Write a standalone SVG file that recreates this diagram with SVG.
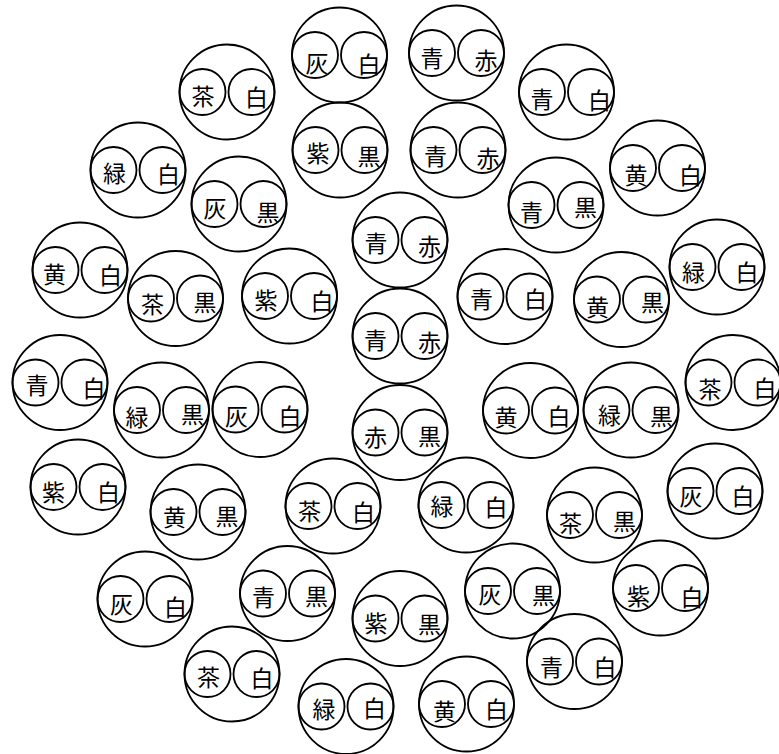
<svg xmlns="http://www.w3.org/2000/svg" width="779" height="754" viewBox="0 0 779 754">
<defs>
<g id="pair" fill="none" stroke="#000" stroke-width="1.8">
<circle cx="0" cy="0" r="47.5"/>
<circle cx="-24.5" cy="0" r="23"/>
<circle cx="24.5" cy="0" r="23"/>
</g>
</defs>
<rect width="779" height="754" fill="#fff"/>
<g font-family="'Noto Sans CJK JP','Noto Sans CJK SC',sans-serif" font-size="23" text-anchor="middle" fill="#000">
<g id="u01" transform="translate(339.5,55)"><use href="#pair"/><text x="-22.5" y="9" dy="8">灰</text><text x="29.5" y="10" dy="8">白</text></g>
<g id="u02" transform="translate(456.5,53)"><use href="#pair"/><text x="-24.5" y="6" dy="8">青</text><text x="29.5" y="8" dy="8">赤</text></g>
<g id="u03" transform="translate(227,92)"><use href="#pair"/><text x="-24" y="5" dy="8">茶</text><text x="29.5" y="6" dy="8">白</text></g>
<g id="u04" transform="translate(566.5,92)"><use href="#pair"/><text x="-24.5" y="8" dy="8">青</text><text x="33" y="8.5" dy="8">白</text></g>
<g id="u05" transform="translate(138,170)"><use href="#pair"/><text x="-23.5" y="3.5" dy="8">緑</text><text x="30.5" y="5" dy="8">白</text></g>
<g id="u06" transform="translate(340,150)"><use href="#pair"/><text x="-22" y="3.5" dy="8">紫</text><text x="29" y="7" dy="8">黒</text></g>
<g id="u07" transform="translate(458,150)"><use href="#pair"/><text x="-22.5" y="7" dy="8">青</text><text x="30" y="8.5" dy="8">赤</text></g>
<g id="u08" transform="translate(657.5,168)"><use href="#pair"/><text x="-21.5" y="7.5" dy="8">黄</text><text x="33" y="8" dy="8">白</text></g>
<g id="u09" transform="translate(239,204)"><use href="#pair"/><text x="-24" y="4.5" dy="8">灰</text><text x="29" y="9" dy="8">黒</text></g>
<g id="u10" transform="translate(556,205)"><use href="#pair"/><text x="-24.5" y="8" dy="8">青</text><text x="29.5" y="3" dy="8">黒</text></g>
<g id="u11" transform="translate(400,240)"><use href="#pair"/><text x="-24" y="4" dy="8">青</text><text x="29.5" y="7" dy="8">赤</text></g>
<g id="u12" transform="translate(80,270)"><use href="#pair"/><text x="-25.5" y="4.5" dy="8">黄</text><text x="30.5" y="6" dy="8">白</text></g>
<g id="u13" transform="translate(175.5,298.5)"><use href="#pair"/><text x="-23" y="6.5" dy="8">茶</text><text x="29.5" y="4.5" dy="8">黒</text></g>
<g id="u14" transform="translate(289.5,296)"><use href="#pair"/><text x="-23.5" y="4.5" dy="8">紫</text><text x="32.5" y="6" dy="8">白</text></g>
<g id="u15" transform="translate(505,296.5)"><use href="#pair"/><text x="-23.5" y="3.5" dy="8">青</text><text x="30.5" y="3" dy="8">白</text></g>
<g id="u16" transform="translate(621.5,299.5)"><use href="#pair"/><text x="-24" y="8" dy="8">黄</text><text x="31" y="3.5" dy="8">黒</text></g>
<g id="u17" transform="translate(717,267)"><use href="#pair"/><text x="-23.5" y="6" dy="8">緑</text><text x="30" y="6" dy="8">白</text></g>
<g id="u18" transform="translate(400,336)"><use href="#pair"/><text x="-24.5" y="5" dy="8">青</text><text x="29.5" y="7" dy="8">赤</text></g>
<g id="u19" transform="translate(60,382.5)"><use href="#pair"/><text x="-23" y="3" dy="8">青</text><text x="34" y="6" dy="8">白</text></g>
<g id="u20" transform="translate(161.5,410)"><use href="#pair"/><text x="-24.5" y="8" dy="8">緑</text><text x="31" y="5" dy="8">黒</text></g>
<g id="u21" transform="translate(260,409.5)"><use href="#pair"/><text x="-23.5" y="7.5" dy="8">灰</text><text x="30" y="7" dy="8">白</text></g>
<g id="u22" transform="translate(400,432.5)"><use href="#pair"/><text x="-24.5" y="5" dy="8">赤</text><text x="29.5" y="4.5" dy="8">黒</text></g>
<g id="u23" transform="translate(530.5,410.5)"><use href="#pair"/><text x="-24.5" y="7" dy="8">黄</text><text x="28.5" y="6" dy="8">白</text></g>
<g id="u24" transform="translate(631,410)"><use href="#pair"/><text x="-21.5" y="5.5" dy="8">緑</text><text x="30.5" y="6.5" dy="8">黒</text></g>
<g id="u25" transform="translate(733,382.5)"><use href="#pair"/><text x="-23" y="7.5" dy="8">茶</text><text x="32" y="6.5" dy="8">白</text></g>
<g id="u26" transform="translate(78,487)"><use href="#pair"/><text x="-24.5" y="5.5" dy="8">紫</text><text x="30.5" y="6" dy="8">白</text></g>
<g id="u27" transform="translate(198,512)"><use href="#pair"/><text x="-23.5" y="6" dy="8">黄</text><text x="29" y="5" dy="8">黒</text></g>
<g id="u28" transform="translate(333,506)"><use href="#pair"/><text x="-23.5" y="6" dy="8">茶</text><text x="30.5" y="6.5" dy="8">白</text></g>
<g id="u29" transform="translate(466,505)"><use href="#pair"/><text x="-24" y="2" dy="8">緑</text><text x="30" y="3" dy="8">白</text></g>
<g id="u30" transform="translate(594.5,515)"><use href="#pair"/><text x="-24" y="9" dy="8">茶</text><text x="30" y="7" dy="8">黒</text></g>
<g id="u31" transform="translate(715,491)"><use href="#pair"/><text x="-24" y="5.5" dy="8">灰</text><text x="28" y="5.5" dy="8">白</text></g>
<g id="u32" transform="translate(145,599)"><use href="#pair"/><text x="-23.5" y="6" dy="8">灰</text><text x="30.5" y="9" dy="8">白</text></g>
<g id="u33" transform="translate(287.5,593.5)"><use href="#pair"/><text x="-24" y="4" dy="8">青</text><text x="29" y="3.5" dy="8">黒</text></g>
<g id="u34" transform="translate(400,618.5)"><use href="#pair"/><text x="-24" y="5.5" dy="8">紫</text><text x="29.5" y="6.5" dy="8">黒</text></g>
<g id="u35" transform="translate(512.5,591)"><use href="#pair"/><text x="-22.5" y="4" dy="8">灰</text><text x="31" y="4.5" dy="8">黒</text></g>
<g id="u36" transform="translate(660.5,588)"><use href="#pair"/><text x="-22" y="9" dy="8">紫</text><text x="31.5" y="9.5" dy="8">白</text></g>
<g id="u37" transform="translate(232,674)"><use href="#pair"/><text x="-23.5" y="4" dy="8">茶</text><text x="30" y="5" dy="8">白</text></g>
<g id="u38" transform="translate(574.5,661.5)"><use href="#pair"/><text x="-23" y="6" dy="8">青</text><text x="30.5" y="6.5" dy="8">白</text></g>
<g id="u39" transform="translate(346,706.5)"><use href="#pair"/><text x="-22" y="3" dy="8">緑</text><text x="28.5" y="2.5" dy="8">白</text></g>
<g id="u40" transform="translate(466.5,704)"><use href="#pair"/><text x="-22" y="7.5" dy="8">黄</text><text x="30" y="5.5" dy="8">白</text></g>
</g>
<g id="connectors"></g>
</svg>
